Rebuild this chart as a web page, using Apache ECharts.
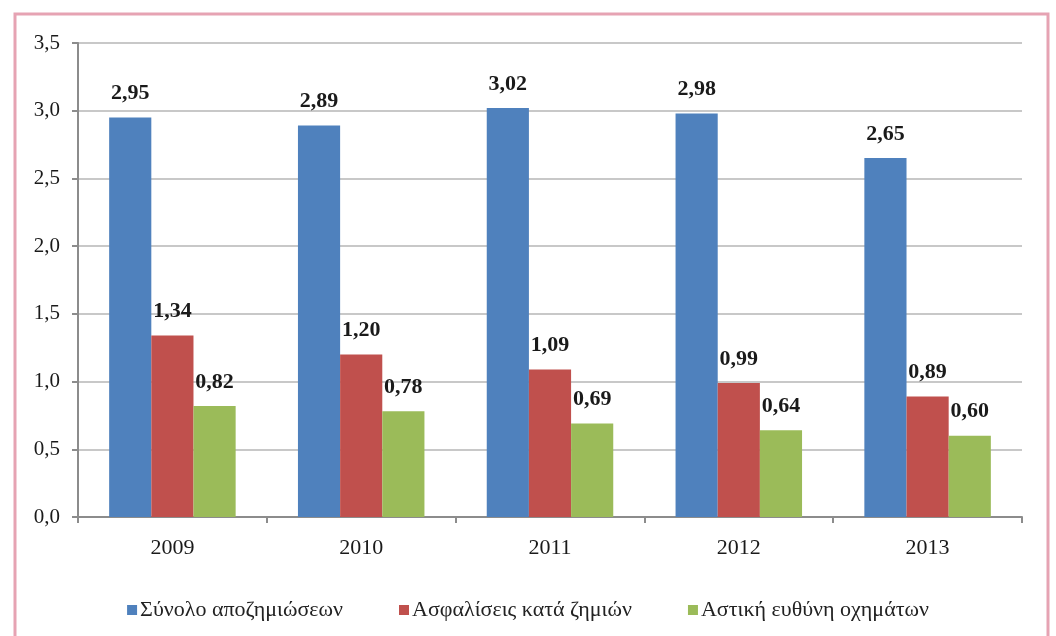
<!DOCTYPE html>
<html>
<head>
<meta charset="utf-8">
<script src="https://cdn.jsdelivr.net/npm/echarts@6/dist/echarts.min.js"></script>
<style>
html,body{margin:0;padding:0;background:#fff;}
#chart{width:1056px;height:636px;}
</style>
</head>
<body>
<div id="chart"></div>
<script>
const categories = ['2009', '2010', '2011', '2012', '2013'];
const seriesNames = ['Σύνολο αποζημιώσεων', 'Ασφαλίσεις κατά ζημιών', 'Αστική ευθύνη οχημάτων'];
const totalClaims = [2.95, 2.89, 3.02, 2.98, 2.65];
const propertyInsurance = [1.34, 1.20, 1.09, 0.99, 0.89];
const motorLiability = [0.82, 0.78, 0.69, 0.64, 0.60];
const yTicks = [0, 0.5, 1.0, 1.5, 2.0, 2.5, 3.0, 3.5];

const colors = ['#4F81BD', '#C0504D', '#9BBB59'];
const serif = '"Liberation Serif", "DejaVu Serif", serif';
const fmt2 = v => v.toFixed(2).replace('.', ',');

const chart = echarts.init(document.getElementById('chart'));
const mk = (name, data, i) => ({
  name: name,
  type: 'bar',
  data: data,
  barGap: 0,
  barCategoryGap: '33%',
  itemStyle: { color: colors[i] },
  label: {
    show: true,
    position: 'top',
    distance: 13,
    fontFamily: serif,
    fontWeight: 'bold',
    fontSize: 22,
    color: '#1a1a1a',
    formatter: p => fmt2(p.value)
  }
});

chart.setOption({
  animation: false,
  backgroundColor: '#ffffff',
  color: colors,
  textStyle: { fontFamily: serif },
  graphic: [{
    type: 'rect',
    shape: { x: 15, y: 14, width: 1033, height: 640 },
    style: { fill: 'none', stroke: '#E6A3B3', lineWidth: 3 },
    silent: true,
    z: 100
  }],
  grid: { left: 78, right: 34, top: 43, bottom: 119 },
  legend: {
    data: seriesNames,
    left: 'center',
    top: 594,
    itemWidth: 10,
    itemHeight: 10,
    itemGap: 56,
    icon: 'rect',
    textStyle: { fontFamily: serif, fontSize: 22, color: '#222', padding: [0, 0, 0, -2] }
  },
  xAxis: {
    type: 'category',
    data: categories,
    axisLine: { lineStyle: { color: '#8c8c8c', width: 2 } },
    axisTick: { show: true, length: 6, alignWithLabel: false, lineStyle: { color: '#8c8c8c', width: 2 } },
    axisLabel: { fontFamily: serif, fontSize: 22, color: '#1a1a1a', margin: 20 }
  },
  yAxis: {
    type: 'value',
    min: 0,
    max: 3.5,
    interval: 0.5,
    axisLine: { show: true, lineStyle: { color: '#8c8c8c', width: 2 } },
    axisTick: { show: true, length: 6, lineStyle: { color: '#8c8c8c', width: 2 } },
    splitLine: { lineStyle: { color: '#c8c8c8', width: 2 } },
    axisLabel: {
      fontFamily: serif, fontSize: 21, color: '#1a1a1a', margin: 18,
      formatter: v => (yTicks.includes(v) ? v.toFixed(1).replace('.', ',') : '')
    }
  },
  series: [
    mk(seriesNames[0], totalClaims, 0),
    mk(seriesNames[1], propertyInsurance, 1),
    mk(seriesNames[2], motorLiability, 2)
  ]
});
</script>
</body>
</html>
